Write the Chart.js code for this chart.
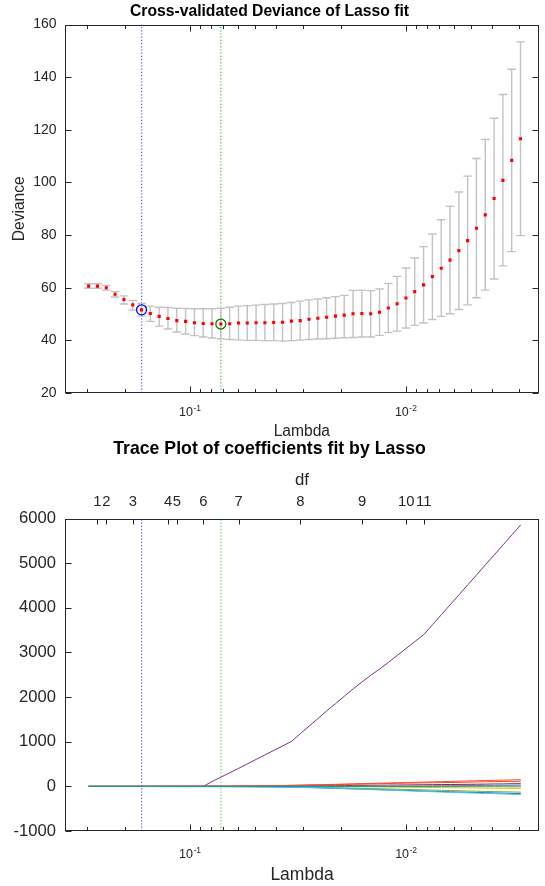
<!DOCTYPE html>
<html>
<head>
<meta charset="utf-8">
<script src="https://cdn.jsdelivr.net/npm/chart.js@4.4.1/dist/chart.umd.min.js"></script>
<style>
  html, body { margin: 0; padding: 0; background: #fff; }
  body { width: 545px; height: 886px; position: relative; overflow: hidden; }
  canvas { position: absolute; left: 0; }
  #cv-chart { top: 0; }
  #trace-chart { top: 435px; }
</style>
</head>
<body>
<canvas id="cv-chart" width="545" height="455"></canvas>
<canvas id="trace-chart" width="545" height="451"></canvas>
<script>
// lambda grid (50 values)
const lambdas = [
  0.2938, 0.2675, 0.2435, 0.2216, 0.2017, 0.1836, 0.1671, 0.1522, 0.1385, 0.1261,
  0.1148, 0.1045, 0.09510, 0.08658, 0.07881, 0.07175, 0.06531, 0.05946, 0.05412, 0.04927,
  0.04485, 0.04083, 0.03715, 0.03382, 0.03079, 0.02803, 0.02551, 0.02323, 0.02114, 0.01925,
  0.01752, 0.01595, 0.01452, 0.01321, 0.01203, 0.01095, 0.009968, 0.009075, 0.008260, 0.007520,
  0.006844, 0.006230, 0.005672, 0.005163, 0.004700, 0.004279, 0.003894, 0.003545, 0.003227, 0.002938
];

// cross-validated deviance
const devMean = [
  60.6, 60.6, 60.0, 57.5, 55.5, 53.5, 51.6, 50.2, 49.1, 48.3,
  47.5, 47.2, 46.7, 46.4, 46.3, 46.2, 46.3, 46.6, 46.6, 46.7,
  46.7, 46.8, 46.9, 47.3, 47.5, 48.0, 48.4, 48.8, 49.2, 49.6,
  50.1, 50.2, 50.1, 50.7, 52.3, 53.9, 56.1, 58.5, 61.1, 64.2,
  67.4, 70.5, 74.1, 77.9, 82.6, 87.7, 93.9, 100.8, 108.4, 116.6
];
const devUpper = [
  61.5, 61.5, 60.9, 58.5, 56.9, 55.2, 54.0, 53.0, 52.6, 52.5,
  52.2, 52.1, 52.0, 52.0, 52.0, 52.2, 52.6, 53.0, 53.2, 53.4,
  53.6, 53.8, 54.0, 54.4, 54.9, 55.4, 55.7, 56.2, 56.6, 57.1,
  59.0, 59.1, 58.9, 59.5, 61.6, 64.3, 67.5, 71.3, 75.6, 80.4,
  85.8, 90.9, 96.4, 102.4, 109.1, 116.3, 124.4, 133.4, 143.0, 153.4
];
const devLower = [
  59.8, 59.8, 59.1, 56.5, 53.8, 51.5, 49.2, 47.2, 45.4, 44.3,
  43.2, 42.4, 41.8, 41.3, 40.9, 40.6, 40.3, 40.2, 40.0, 40.0,
  39.9, 39.9, 39.7, 39.9, 40.1, 40.3, 40.5, 40.6, 40.8, 41.0,
  41.1, 41.3, 41.3, 41.9, 43.0, 43.5, 44.7, 45.7, 46.6, 47.9,
  49.1, 50.1, 51.7, 53.5, 56.2, 59.1, 63.3, 68.3, 73.7, 79.8
];
const idx1SE = 6;      // blue circle / dotted line
const idxMinDev = 15;  // green circle / dotted line

// axis ticks
const lambdaTicks = [0.3, 0.2, 0.1, 0.09, 0.08, 0.07, 0.06, 0.05, 0.04, 0.03, 0.02,
                     0.01, 0.009, 0.008, 0.007, 0.006, 0.005, 0.004, 0.003];
const lambdaMajor = [0.1, 0.01];
const lambdaMajorExp = ['-1', '-2'];
const dfLambdas = [0.2675, 0.2435, 0.1836, 0.1261, 0.1148, 0.08658, 0.05946, 0.03079, 0.01595, 0.009968, 0.008260];
const dfLabels = ['1', '2', '3', '4', '5', '6', '7', '8', '9', '10', '11'];

// lasso coefficient paths, one per predictor
const coef1 = [0, 0, -0.5, -1, -1.5, -2, -2.5, -3, -3.5, -4,
  -4.5, -5, -5.5, -6, -6.5, -7, -7.5, -8, -9, -10,
  -11, -13, -15, -18, -22, -27, -32, -38, -44, -50,
  -56, -62, -68, -74, -80, -86, -92, -98, -104, -110,
  -116, -122, -127, -132, -137, -142, -147, -152, -158, -165];
const coef2 = [0, 0, 0, 0.5, 1, 1.5, 2, 2.5, 3, 3.5,
  4, 4.5, 5, 5.5, 6, 6.5, 7, 8, 9, 10,
  12, 14, 17, 20, 24, 28, 32, 36, 40, 44,
  48, 52, 56, 60, 64, 68, 72, 75, 78, 81,
  84, 87, 90, 94, 98, 102, 106, 109, 112, 115];
const coef3 = [0, 0, 0, 0, 0, 0, 0, 0, 0, 0,
  0, 0, 0, 0, 0, 0, 0, 0, 0, 0,
  0, 0, 0, 0, 0, -1, -2, -3, -5, -6,
  -8, -10, -12, -14, -16, -18, -20, -22, -24, -26,
  -28, -30, -32, -34, -36, -38, -40, -42, -44, -45];
const coef4 = [0, 0, 0, 0, 0, 0, 0, 0, 0, 0,
  0, 0, 0, 0, 109, 207, 304, 403, 504, 605,
  706, 806, 907, 1008, 1180, 1350, 1520, 1690, 1855, 2020,
  2185, 2340, 2490, 2630, 2780, 2935, 3090, 3245, 3400, 3624,
  3847, 4071, 4294, 4518, 4741, 4965, 5188, 5412, 5635, 5860];
const coef5 = [0, 0, 0, 0, 0, 0, 0, 0, 0, 0,
  -0.5, -1, -1.5, -2, -2.5, -3, -3.5, -4, -5, -6,
  -7, -8, -10, -12, -15, -18, -22, -26, -30, -34,
  -39, -44, -49, -54, -59, -64, -69, -74, -79, -84,
  -89, -94, -99, -104, -109, -114, -118, -122, -126, -130];
const coef6 = [0, 0, 0, 0, 0, 0, 0, 0, 0, 0,
  0, -0.5, -1, -1.5, -2, -3, -4, -5, -6, -7,
  -9, -11, -14, -17, -21, -26, -31, -37, -43, -50,
  -57, -64, -71, -78, -85, -92, -99, -106, -113, -120,
  -127, -134, -140, -146, -152, -158, -164, -170, -176, -182];
const coef7 = [0, 0, 0, 0, 0, 0, 0, 0, 0, 0,
  0, 0, 0, 0, 0, 0, 0, 0, 1, 2,
  3, 4, 5, 6, 8, 10, 12, 14, 16, 18,
  20, 22, 24, 26, 28, 30, 32, 34, 36, 38,
  40, 42, 44, 46, 48, 50, 53, 55, 58, 60];
const coef8 = [0, 0, 0, 0, 0, 0, 0, 0, 0, 0,
  0, 0, 0, 0, 0, 0, 0, 0, 0, 0,
  0, 0, 0, 0, 0, 0, 0, 0, 0, 0,
  0, 0, 0, 0, 0, 0, 0, -1, -3, -4,
  -6, -7, -9, -10, -12, -13, -15, -16, -18, -20];
const coef9 = [0, 0, 0, 0, 0, 0, 0, 0, 0, 0,
  0, 0, 0, 0, 0, 0, 0, 0, 0, 0,
  0, 0, 0, 0, 0, 0, 0, 0, 0, 0,
  0, 0, 1, 3, 4, 6, 7, 9, 10, 12,
  13, 15, 16, 18, 19, 21, 23, 24, 26, 28];
const coef10 = [0, 0, 0, 0, 0, 0, 0.5, 1, 1.5, 2,
  2.5, 3, 3.5, 4, 5, 6, 7, 8, 10, 12,
  14, 17, 20, 24, 28, 32, 36, 41, 46, 51,
  56, 61, 66, 71, 76, 81, 86, 91, 96, 101,
  106, 111, 116, 121, 126, 131, 136, 140, 145, 149];
const coef11 = [0, 0, 0, 0, 0, 0, 0, 0, 0, 0,
  0, 0, 0, 0, 0, 0, 0, 0, 0, 0,
  0, 0, 0, 0, 0, 0, 0, 0, 0, 0,
  0, 0, 0, 0, 0, 0, 0, 0, 0, 0.5,
  1, 1.5, 2, 2.5, 3, 3.5, 4, 4, 4.5, 5];
const coefPaths = [coef1, coef2, coef3, coef4, coef5, coef6, coef7, coef8, coef9, coef10, coef11];
const coefColors = ['#0072BD', '#D95319', '#EDB120', '#7E2F8E', '#77AC30', '#4DBEEE',
                    '#A2142F', '#FFD60A', '#6582FD', '#FF453A', '#00A3A3'];

const AXIS_COLOR = '#262626';
const FONT = "'Liberation Sans', Arial, Helvetica, sans-serif";
Chart.defaults.font.family = FONT;
Chart.defaults.color = AXIS_COLOR;

/* =============================================================================
BOX, INWARD TICKS AND 10^k LABELS
============================================================================= */

const axesFrame = {
  id: 'axesFrame',
  afterDatasetsDraw(chart, args, opts) {
    const {ctx, chartArea: a} = chart;
    const xs = chart.scales.x;
    const ys = chart.scales.y;
    const L = Math.round(a.left) + 0.5, R = Math.round(a.right) - 0.5;
    const T = Math.round(a.top) + 0.5, B = Math.round(a.bottom) - 0.5;
    const seg = (x1, y1, x2, y2) => {
      ctx.beginPath(); ctx.moveTo(x1, y1); ctx.lineTo(x2, y2); ctx.stroke();
    };

    ctx.save();
    ctx.strokeStyle = AXIS_COLOR;
    ctx.lineWidth = 1;
    ctx.strokeRect(L, T, R - L, B - T);

    xs.ticks.forEach(t => {
      const px = Math.round(xs.getPixelForValue(t.value)) + 0.5;
      const len = lambdaMajor.includes(t.value) ? 6 : 3.5;
      seg(px, B, px, B - len);
      if (opts.topLambda) seg(px, T, px, T + len);
    });
    if (opts.dfScale) {
      const ds = chart.scales[opts.dfScale];
      ds.ticks.forEach(t => {
        const px = Math.round(ds.getPixelForValue(t.value)) + 0.5;
        seg(px, T, px, T + 5);
      });
    }
    ys.ticks.forEach(t => {
      const py = Math.round(ys.getPixelForValue(t.value)) + 0.5;
      seg(L, py, L + 6, py);
      if (opts.rightTicks) seg(R, py, R - 6, py);
    });

    // "10" with a raised exponent under the major lambda ticks
    ctx.fillStyle = AXIS_COLOR;
    ctx.textBaseline = 'alphabetic';
    ctx.textAlign = 'left';
    lambdaMajor.forEach((v, i) => {
      const px = xs.getPixelForValue(v);
      const baseY = a.bottom + opts.labelOffset;
      ctx.font = `${opts.baseSize}px ${FONT}`;
      const wBase = ctx.measureText('10').width;
      ctx.font = `${opts.expSize}px ${FONT}`;
      const wExp = ctx.measureText(lambdaMajorExp[i]).width;
      const x0 = px - (wBase + wExp) / 2;
      ctx.font = `${opts.baseSize}px ${FONT}`;
      ctx.fillText('10', x0, baseY);
      ctx.font = `${opts.expSize}px ${FONT}`;
      ctx.fillText(lambdaMajorExp[i], x0 + wBase + 0.5, baseY - opts.expRaise);
    });
    ctx.restore();
  }
};

function lambdaAxis(height, titleSize, titlePadBottom) {
  return {
    type: 'logarithmic',
    reverse: true,
    bounds: 'data',
    min: 0.00242,
    max: 0.378,
    afterBuildTicks: s => { s.ticks = lambdaTicks.map(v => ({value: v})); },
    afterFit: s => { s.height = height; },
    ticks: {display: false},
    grid: {display: false, drawTicks: false},
    border: {display: false},
    title: {
      display: true, text: 'Lambda', color: AXIS_COLOR,
      font: {size: titleSize}, padding: {top: 0, bottom: titlePadBottom}
    }
  };
}

/* =============================================================================
TOP: CROSS-VALIDATED DEVIANCE
============================================================================= */

const pts = ys => lambdas.map((l, i) => ({x: l, y: ys[i]}));
const errorSegments = [];
lambdas.forEach((l, i) => {
  errorSegments.push({x: l, y: devLower[i]}, {x: l, y: devUpper[i]}, {x: l, y: null});
});

new Chart(document.getElementById('cv-chart'), {
  type: 'scatter',
  data: {
    datasets: [
      {
        data: pts(devMean), order: 0,
        pointStyle: 'rect', pointRadius: 2.2, pointBorderWidth: 0,
        pointBackgroundColor: '#ff0000'
      },
      {
        data: [{x: lambdas[idx1SE], y: devMean[idx1SE]}], order: 1,
        pointStyle: 'circle', pointRadius: 5, pointBorderWidth: 1.3,
        pointBorderColor: '#0000ff', pointBackgroundColor: 'rgba(0,0,0,0)'
      },
      {
        data: [{x: lambdas[idxMinDev], y: devMean[idxMinDev]}], order: 1,
        pointStyle: 'circle', pointRadius: 5, pointBorderWidth: 1.3,
        pointBorderColor: '#008000', pointBackgroundColor: 'rgba(0,0,0,0)'
      },
      {
        data: pts(devUpper), order: 2,
        pointStyle: 'line', pointRadius: 4.3, pointBorderWidth: 1.4,
        pointBorderColor: '#c2c2c2'
      },
      {
        data: pts(devLower), order: 2,
        pointStyle: 'line', pointRadius: 4.3, pointBorderWidth: 1.4,
        pointBorderColor: '#c2c2c2'
      },
      {
        data: errorSegments, order: 3, showLine: true, spanGaps: false,
        borderColor: '#c2c2c2', borderWidth: 1.4, pointRadius: 0
      },
      {
        data: [{x: lambdas[idx1SE], y: 20}, {x: lambdas[idx1SE], y: 160}], order: 4,
        showLine: true, borderColor: '#4a5aff', borderWidth: 1.2, borderDash: [1.2, 2], pointRadius: 0
      },
      {
        data: [{x: lambdas[idxMinDev], y: 20}, {x: lambdas[idxMinDev], y: 160}], order: 4,
        showLine: true, borderColor: '#22cc22', borderWidth: 1.2, borderDash: [1.2, 2], pointRadius: 0
      }
    ]
  },
  options: {
    responsive: false,
    animation: false,
    events: [],
    layout: {padding: {left: 0, right: 6, top: 0, bottom: 0}},
    plugins: {
      legend: {display: false},
      tooltip: {enabled: false},
      title: {
        display: true, text: 'Cross-validated Deviance of Lasso fit', color: '#000',
        font: {size: 15.7, weight: 'bold'}, padding: {top: 2.6, bottom: 3.1}
      },
      axesFrame: {topLambda: true, rightTicks: true, labelOffset: 23, baseSize: 12.5, expSize: 8.5, expRaise: 5}
    },
    scales: {
      x: lambdaAxis(62, 15.6, 13.9),
      y: {
        type: 'linear', min: 20, max: 160,
        afterFit: s => { s.width = 65; },
        ticks: {stepSize: 20, padding: 8.5, font: {size: 14}, color: AXIS_COLOR, callback: v => String(v)},
        grid: {display: false, drawTicks: false},
        border: {display: false},
        title: {
          display: true, text: 'Deviance', color: AXIS_COLOR,
          font: {size: 15.6}, padding: {top: 10.6, bottom: 0}
        }
      }
    }
  },
  plugins: [axesFrame]
});

/* =============================================================================
BOTTOM: TRACE PLOT OF COEFFICIENTS
============================================================================= */

const traceSets = coefPaths.map((path, k) => ({
  data: pts(path),
  order: coefPaths.length - k,
  showLine: true,
  borderColor: coefColors[k],
  borderWidth: 1,
  pointRadius: 0
}));
traceSets.push(
  {
    data: [{x: lambdas[idx1SE], y: -1000}, {x: lambdas[idx1SE], y: 6000}], order: 20,
    showLine: true, borderColor: '#4a5aff', borderWidth: 1.2, borderDash: [1.2, 2], pointRadius: 0
  },
  {
    data: [{x: lambdas[idxMinDev], y: -1000}, {x: lambdas[idxMinDev], y: 6000}], order: 20,
    showLine: true, borderColor: '#55e055', borderWidth: 1.2, borderDash: [1.2, 2], pointRadius: 0
  }
);

new Chart(document.getElementById('trace-chart'), {
  type: 'scatter',
  data: {datasets: traceSets},
  options: {
    responsive: false,
    animation: false,
    events: [],
    layout: {padding: {left: 0, right: 6, top: 0, bottom: 0}},
    plugins: {
      legend: {display: false},
      tooltip: {enabled: false},
      title: {
        display: true, text: 'Trace Plot of coefficients fit by Lasso', color: '#000',
        font: {size: 17.7, weight: 'bold'}, padding: {top: 3.7, bottom: 0}
      },
      axesFrame: {topLambda: false, rightTicks: false, dfScale: 'xdf', labelOffset: 27, baseSize: 12.5, expSize: 8.5, expRaise: 5}
    },
    scales: {
      x: lambdaAxis(55, 17.5, 0.5),
      xdf: {
        axis: 'x',
        type: 'logarithmic',
        position: 'top',
        reverse: true,
        bounds: 'data',
        min: 0.00242,
        max: 0.378,
        afterBuildTicks: s => { s.ticks = dfLambdas.map(v => ({value: v})); },
        afterFit: s => { s.height = 58.6; },
        ticks: {
          autoSkip: false, maxRotation: 0, minRotation: 0, padding: 7.9,
          font: {size: 14.8}, color: AXIS_COLOR,
          callback: (v, i) => dfLabels[i]
        },
        grid: {display: false, drawTicks: false},
        border: {display: false},
        title: {
          display: true, text: 'df', color: AXIS_COLOR,
          font: {size: 16.8}, padding: {top: 10, bottom: 0}
        }
      },
      y: {
        type: 'linear', min: -1000, max: 6000,
        afterFit: s => { s.width = 65; },
        ticks: {stepSize: 1000, padding: 9, font: {size: 16.6}, color: AXIS_COLOR, callback: v => String(v)},
        grid: {display: false, drawTicks: false},
        border: {display: false}
      }
    }
  },
  plugins: [axesFrame]
});
</script>
</body>
</html>
